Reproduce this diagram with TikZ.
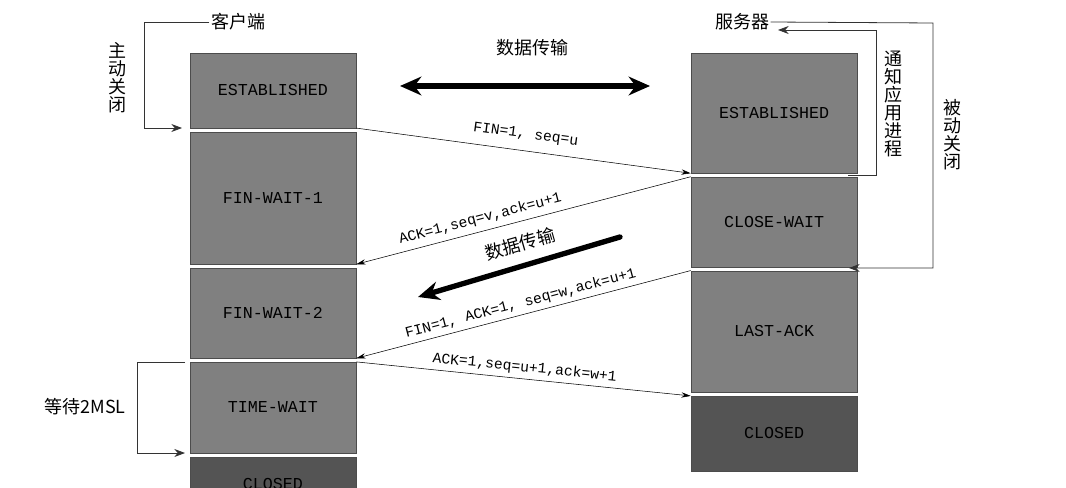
\documentclass[tikz,border=0pt]{standalone}
\usepackage{fontspec}
\setmainfont{Liberation Mono}
\newfontfamily\cjk{Noto Sans CJK SC}
\usetikzlibrary{arrows.meta}
\begin{document}
\begin{tikzpicture}[x=0.75pt,y=-0.75pt,
  st/.style={draw=black!70,fill=black!50,minimum width=124.5pt,inner sep=0pt,font=\fontsize{12.5}{12.5}\selectfont},
  dk/.style={st,fill=black!67},
  msg/.style={-{Stealth[length=7pt,width=4pt]},black},
  lab/.style={font=\fontsize{11}{11}\selectfont,inner sep=1pt},
  cn/.style={font=\cjk\fontsize{13.5}{13.5}\selectfont,inner sep=1pt},
  vt/.style={cn,align=center,text width=14pt},
  br/.style={-{Stealth[length=8pt,width=6pt]},black!80,line width=0.6pt},
  big/.style={{Stealth[length=16pt,width=14pt]}-{Stealth[length=16pt,width=14pt]},line width=4pt}]
\useasboundingbox (0,0) rectangle (1066,488);
% client states
\node[st,minimum height=56pt] (ce) at (273,90.5) {ESTABLISHED};
\node[st,minimum height=99pt] (f1) at (273,198) {FIN-WAIT-1};
\node[st,minimum height=67.5pt] (f2) at (273,313) {FIN-WAIT-2};
\node[st,minimum height=68pt] (tw) at (273,407.5) {TIME-WAIT};
\node[dk,minimum height=40pt,anchor=north] (cc) at (273,457) {CLOSED};
% server states
\node[st,minimum height=90pt] (se) at (774,113) {ESTABLISHED};
\node[st,minimum height=67.5pt] (cw) at (774,222) {CLOSE-WAIT};
\node[st,minimum height=91pt] (la) at (774,331.5) {LAST-ACK};
\node[dk,minimum height=56pt] (sc) at (774,433.5) {CLOSED};
% titles
\node[cn] (kh) at (238,22) {客户端};
\node[cn] (fw) at (742,22) {服务器};
\node[vt] (zd) at (117,78) {主\\动\\关\\闭};
\node[vt] (tz) at (893,104) {通\\知\\应\\用\\进\\程};
\node[vt] (bd) at (952,135) {被\\动\\关\\闭};
\node[cn] (dd) at (85,407) {等待2MSL};
% brackets
\coordinate (a1) at (182,128);
\draw[br] (kh.west) -- (144,22) |- (a1);
\coordinate (a2) at (185,453);
\draw[br] (185,362) -- (137,362) |- (a2);
\coordinate (a3) at (778,30);
\draw[br] (848,175) -- (876,175) |- (a3);
\coordinate (a4) at (849,268);
\draw[br] (fw.east) -- (933,23) |- (a4);
% messages
\draw[msg] (ce.south east) -- (se.south west) node[lab,pos=0.5,above,sloped,yshift=6pt] {FIN=1, seq=u};
\draw[msg] (cw.north west) -- (f1.south east) node[lab,pos=0.62,above,sloped,yshift=3pt] {ACK=1,seq=v,ack=u+1};
\draw[msg] (la.north west) -- (f2.south east) node[lab,pos=0.5,above,sloped,yshift=2pt] {FIN=1, ACK=1, seq=w,ack=u+1};
\draw[msg] (tw.north east) -- (sc.north west) node[lab,pos=0.5,above,sloped,yshift=2pt] {ACK=1,seq=u+1,ack=w+1};
% data transfer
\coordinate (d1) at (400,86); \coordinate (d2) at (650,86);
\draw[big] (d1) -- (d2);
\node[cn] (dt1) at (532,48) {数据传输};
\coordinate (d3) at (620,237); \coordinate (d4) at (418,297);
\draw[-{Stealth[length=16pt,width=14pt]},line width=4pt,line cap=round] (d3) -- (d4);
\node[cn,rotate=16] (dt2) at (520,244) {数据传输};
\end{tikzpicture}
\end{document}
